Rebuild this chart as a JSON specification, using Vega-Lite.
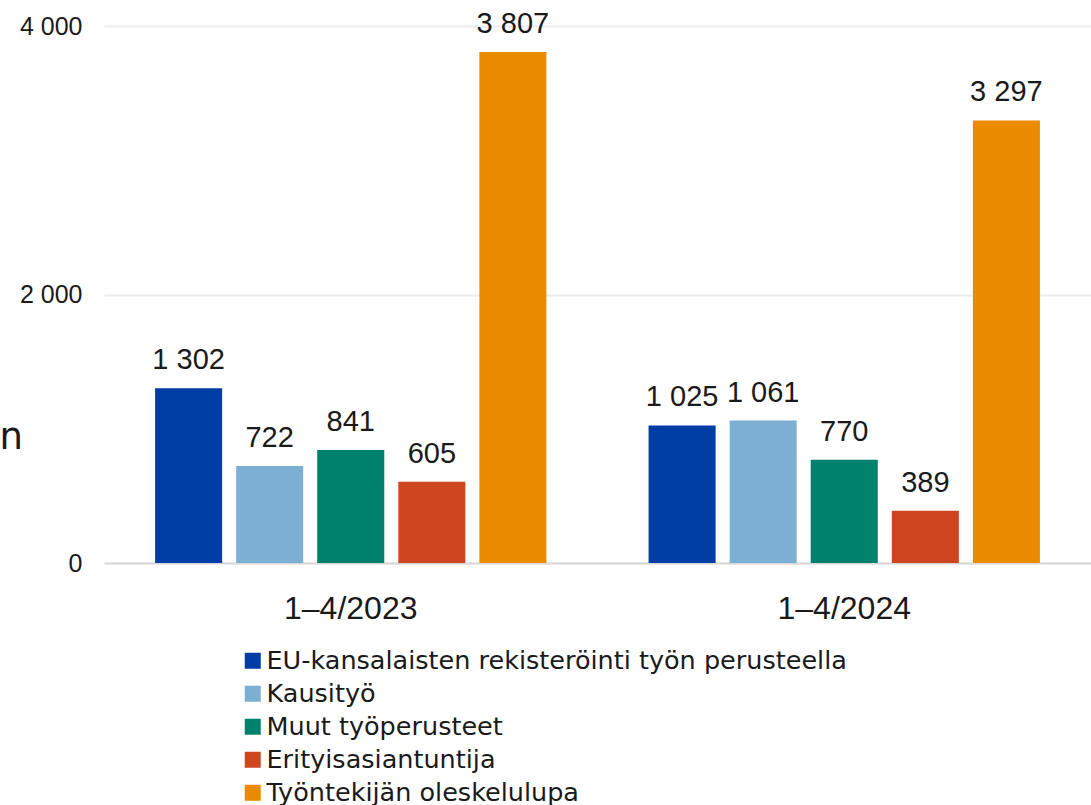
{
  "$schema": "https://vega.github.io/schema/vega-lite/v6.json",
  "autosize": "none",
  "width": 987,
  "height": 537,
  "padding": {"left": 104, "top": 26, "right": 0, "bottom": 242},
  "background": "white",
  "config": {
    "locale": {"number": {"decimal": ",", "thousands": " ", "grouping": [3], "currency": ["", " €"]}},
    "view": {"stroke": null}
  },
  "data": {
    "values": [
      {"period": "1–4/2023", "category": "EU-kansalaisten rekisteröinti työn perusteella", "value": 1302},
      {"period": "1–4/2023", "category": "Kausityö", "value": 722},
      {"period": "1–4/2023", "category": "Muut työperusteet", "value": 841},
      {"period": "1–4/2023", "category": "Erityisasiantuntija", "value": 605},
      {"period": "1–4/2023", "category": "Työntekijän oleskelulupa", "value": 3807},
      {"period": "1–4/2024", "category": "EU-kansalaisten rekisteröinti työn perusteella", "value": 1025},
      {"period": "1–4/2024", "category": "Kausityö", "value": 1061},
      {"period": "1–4/2024", "category": "Muut työperusteet", "value": 770},
      {"period": "1–4/2024", "category": "Erityisasiantuntija", "value": 389},
      {"period": "1–4/2024", "category": "Työntekijän oleskelulupa", "value": 3297}
    ]
  },
  "encoding": {
    "x": {
      "field": "period", "type": "nominal", "sort": ["1–4/2023", "1–4/2024"],
      "scale": {"paddingInner": 0, "paddingOuter": 0},
      "axis": {
        "title": null, "labelAngle": 0, "ticks": false, "domain": true,
        "domainColor": "#d9d9d9", "domainWidth": 2,
        "labelFont": "Liberation Sans", "labelFontSize": 32, "labelColor": "#1a1a1a",
        "labelPadding": 55, "labelBaseline": "alphabetic"
      }
    },
    "xOffset": {
      "field": "category", "type": "nominal",
      "sort": ["EU-kansalaisten rekisteröinti työn perusteella", "Kausityö", "Muut työperusteet", "Erityisasiantuntija", "Työntekijän oleskelulupa"],
      "scale": {"paddingInner": 0.173, "paddingOuter": 0.63}
    },
    "y": {
      "field": "value", "type": "quantitative",
      "scale": {"domain": [0, 4000], "nice": false},
      "axis": {
        "title": "n", "titleAngle": 0, "titleX": -105, "titleY": 422,
        "titleAlign": "left", "titleBaseline": "alphabetic",
        "titleFont": "DejaVu Sans", "titleFontSize": 37, "titleFontWeight": "normal", "titleColor": "#1a1a1a",
        "values": [0, 2000, 4000], "format": ",d",
        "domain": false, "ticks": false,
        "labelFont": "Liberation Sans", "labelFontSize": 25, "labelColor": "#1a1a1a",
        "labelPadding": 22,
        "grid": true, "gridColor": "#ececec", "gridWidth": 2
      }
    }
  },
  "layer": [
    {
      "mark": {"type": "bar"},
      "encoding": {
        "color": {
          "field": "category", "type": "nominal",
          "sort": ["EU-kansalaisten rekisteröinti työn perusteella", "Kausityö", "Muut työperusteet", "Erityisasiantuntija", "Työntekijän oleskelulupa"],
          "scale": {
            "domain": ["EU-kansalaisten rekisteröinti työn perusteella", "Kausityö", "Muut työperusteet", "Erityisasiantuntija", "Työntekijän oleskelulupa"],
            "range": ["#003DA5", "#7BAFD4", "#00816D", "#CF4520", "#EA8B00"]
          },
          "legend": {
            "title": null, "orient": "none", "legendX": 136, "legendY": 622,
            "direction": "vertical", "padding": 0,
            "symbolType": "square", "symbolSize": 256, "symbolStrokeWidth": 0,
            "labelFont": "DejaVu Sans", "labelFontSize": 25.5, "labelColor": "#1a1a1a",
            "labelOffset": 1, "rowPadding": 6, "labelLimit": 800
          }
        }
      }
    },
    {
      "mark": {"type": "text", "baseline": "alphabetic", "dy": -19, "font": "Liberation Sans", "fontSize": 29, "color": "#1a1a1a"},
      "encoding": {
        "text": {"field": "value", "type": "quantitative", "format": ",d"}
      }
    }
  ]
}
